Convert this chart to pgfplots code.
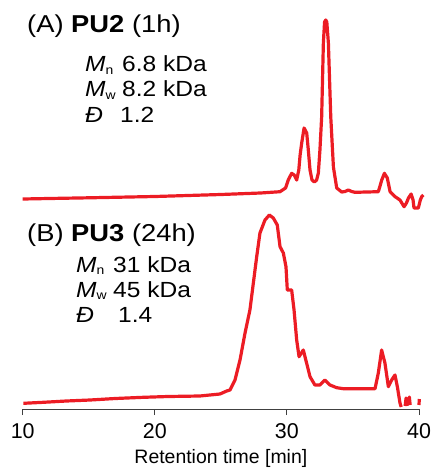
\documentclass[border=0pt]{standalone}
\usepackage{fontspec}
\setmainfont{Liberation Sans}
\newfontfamily\wfont[FakeStretch=1.12]{Liberation Sans}
\usepackage{pgfplots}
\pgfplotsset{compat=1.18}
\definecolor{trace}{RGB}{236,28,36}
\pgfplotstableread{
x y
10.0 210
12.0 210.5
15.0 211.2
20.0 212.5
25.0 214.5
28.0 216
29.48 217.3
29.9 221
30.1 229
30.36 235.7
30.55 234
30.74 229
30.9 239
31.0 254
31.12 266
31.3 281
31.5 276
31.62 259
31.75 239
31.9 229
32.08 227
32.25 229
32.38 236
32.5 259
32.63 292
32.76 366
32.85 387
32.94 389
33.02 387
33.14 366
33.32 292
33.52 242
33.77 221
34.15 217
34.4 217.5
34.65 219
34.9 217.5
35.16 216.7
36.92 217.3
37.05 223
37.18 229
37.38 235.7
37.6 231
37.81 217.3
38.19 212.3
38.56 209
38.87 202.3
39.05 206
39.2 211
39.4 215
39.55 209
39.62 201
39.95 201
40.1 209
40.2 212.3
40.33 214
}\pua
\pgfplotstableread{
x y
10.05 5.7
11.56 6.7
13.3 8
15.1 9
17.0 10.5
19.13 11.7
21.0 12.5
23.4 13
24.93 15
25.44 18
25.69 19
26.07 29
26.45 49
26.83 76
27.2 99
27.46 126
27.71 152
27.96 176
28.34 189
28.67 194
28.97 191
29.27 184
29.48 162.3
29.73 156
29.93 142.3
30.03 119
30.36 119
30.54 99
30.74 69
30.92 52.3
31.24 59
31.49 46
31.75 32.3
32.12 24
32.5 24
32.88 29
33.26 24
33.77 21.3
34.27 20.3
36.67 20.3
36.92 36
37.17 59
37.42 46
37.68 22.3
37.93 29
38.18 34
38.36 22.3
38.56 6
38.65 2
38.8 nan
38.95 3
39.02 11
39.1 3
39.15 nan
39.22 4
39.27 12
39.33 4
39.4 nan
40.0 4
40.02 10
}\pub
\newcommand{\sub}[1]{\raisebox{-0.12em}{\fontsize{12.5}{13}\selectfont #1}}
\begin{document}
\begin{tikzpicture}[x=1bp,y=1bp]
\useasboundingbox (0,0) rectangle (430,-469);
\begin{axis}[
  at={(22.7bp,-409bp)}, anchor=south west,
  scale only axis, width=396.3bp, height=400bp,
  xmin=10, xmax=40, ymin=0, ymax=400,
  axis x line=bottom, hide y axis,
  x axis line style={-, line width=0.9bp, color=black!75},
  xtick={10,20,30,40},
  tick align=outside, major tick length=6bp,
  tick style={line width=0.9bp, color=black!75},
  /pgf/number format/assume math mode=true,
  xticklabel style={font=\fontsize{21.5}{22}\selectfont, anchor=base, yshift=-23bp},
  xlabel={Retention time [min]},
  xlabel style={font=\fontsize{19.5}{20}\selectfont, at={(axis description cs:0.5,0)}, anchor=base, yshift=-54bp},
  clip=false, unbounded coords=jump,
]
\addplot[trace, line width=3.2bp, line join=round] table[x=x,y=y] {\pua};
\addplot[trace, line width=3.2bp, line join=round] table[x=x,y=y] {\pub};
\end{axis}
\begin{scope}[every node/.style={inner sep=0pt, anchor=base west, font=\wfont\fontsize{22}{22}\selectfont}]
\node[font=\wfont\fontsize{24.5}{25}\selectfont] at (27,-33) {(A) \textbf{PU2} (1h)};
\node at (85,-72) {\textit{M}\sub{n}};
\node at (122,-72) {6.8 kDa};
\node at (85,-97) {\textit{M}\sub{w}};
\node at (122,-97) {8.2 kDa};
\node at (85,-123) {\textit{Đ}};
\node at (120,-123) {1.2};
\node[font=\wfont\fontsize{24.5}{25}\selectfont] at (27,-241) {(B) \textbf{PU3} (24h)};
\node at (76,-272) {\textit{M}\sub{n}};
\node at (113,-272) {31 kDa};
\node at (76,-297) {\textit{M}\sub{w}};
\node at (113,-297) {45 kDa};
\node at (76,-322) {\textit{Đ}};
\node at (118,-322) {1.4};
\end{scope}
\end{tikzpicture}
\end{document}
